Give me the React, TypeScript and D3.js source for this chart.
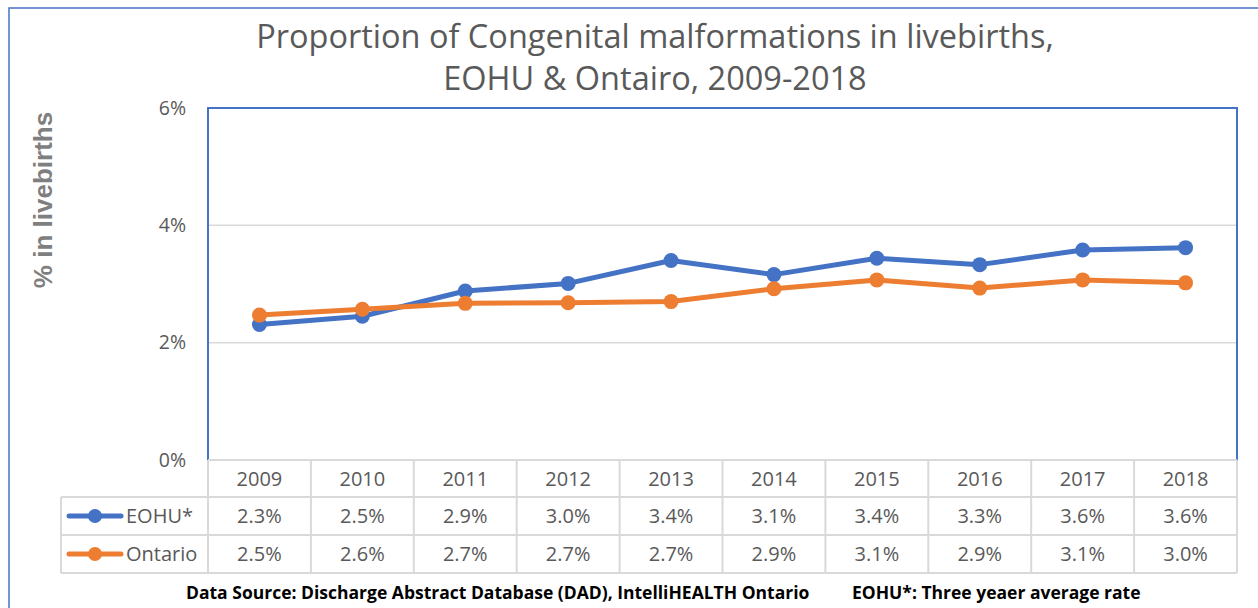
import React from "react";
import * as d3 from "d3";

const years = ["2009", "2010", "2011", "2012", "2013", "2014", "2015", "2016", "2017", "2018"];
const eohuValues = [2.31, 2.45, 2.88, 3.01, 3.4, 3.16, 3.44, 3.33, 3.58, 3.62];
const ontarioValues = [2.47, 2.57, 2.67, 2.68, 2.7, 2.92, 3.07, 2.93, 3.07, 3.02];
const eohuLabels = ["2.3%", "2.5%", "2.9%", "3.0%", "3.4%", "3.1%", "3.4%", "3.3%", "3.6%", "3.6%"];
const ontarioLabels = ["2.5%", "2.6%", "2.7%", "2.7%", "2.7%", "2.9%", "3.1%", "2.9%", "3.1%", "3.0%"];
const yTicks = [0, 2, 4, 6];
const seriesNames = ["EOHU*", "Ontario"];
const titleLines = ["Proportion of Congenital malformations in livebirths,", "EOHU & Ontairo, 2009-2018"];
const yTitle = "% in livebirths";
const footerSource = "Data Source: Discharge Abstract Database (DAD), IntelliHEALTH Ontario";
const footerNote = "EOHU*: Three yeaer average rate";

const W = 1258;
const H = 608;
const FONT = "'Open Sans', 'Noto Sans', sans-serif";
const TXT = "#595959";
const BLUE = "#4472C4";
const ORANGE = "#ED7D31";
const GRID = "#D9D9D9";

export default function App() {
  const left = 208, right = 1237, top = 108, bottom = 460;
  const rowH = [37, 38, 38];
  const legendLeft = 61;

  const x = d3.scaleBand<string>().domain(years).range([left, right]);
  const y = d3.scaleLinear().domain([0, 6]).range([bottom, top]);
  const line = d3
    .line<number>()
    .x((_, i) => (x(years[i]) as number) + x.bandwidth() / 2)
    .y((d) => y(d));

  const series = [
    { name: seriesNames[0], values: eohuValues, labels: eohuLabels, color: BLUE },
    { name: seriesNames[1], values: ontarioValues, labels: ontarioLabels, color: ORANGE },
  ];

  const r0 = bottom;
  const r1 = r0 + rowH[0];
  const r2 = r1 + rowH[1];
  const r3 = r2 + rowH[2];
  const rowTops = [r1, r2];

  return (
    <svg width={W} height={H} style={{ position: "absolute", left: 0, top: 0, background: "#fff" }}>
      <rect x={0} y={0} width={W} height={H} fill="#fff" />
      <rect x={9} y={8} width={W + 10} height={H + 10} fill="none" stroke={BLUE} strokeWidth={1.5} />
      {titleLines.map((t, i) => (
        <text key={i} x={655} y={48 + i * 42} textAnchor="middle" fontFamily={FONT} fontSize={32.5} fill={TXT}>
          {t}
        </text>
      ))}
      <text
        transform={`translate(52, 200) rotate(-90)`}
        textAnchor="middle"
        fontFamily="'Liberation Sans', Arial, sans-serif"
        fontSize={26}
        fontWeight="bold"
        fill="#7F7F7F"
      >
        {yTitle}
      </text>
      {yTicks.map((t) => (
        <g key={t}>
          {t > 0 && t < 6 && <line x1={left} x2={right} y1={y(t)} y2={y(t)} stroke={GRID} strokeWidth={1.5} />}
          <text x={186} y={y(t)} dy="0.35em" textAnchor="end" fontFamily={FONT} fontSize={19.5} fill={TXT}>
            {t}%
          </text>
        </g>
      ))}
      <path d={`M${left},${bottom} V${top} H${right} V${bottom}`} fill="none" stroke={BLUE} strokeWidth={2} />

      {/* data table */}
      <g stroke={GRID} strokeWidth={2} fill="none">
        <line x1={left} x2={right} y1={r0} y2={r0} />
        <line x1={legendLeft} x2={right} y1={r1} y2={r1} />
        <line x1={legendLeft} x2={right} y1={r2} y2={r2} />
        <line x1={legendLeft} x2={right} y1={r3} y2={r3} />
        <line x1={legendLeft} x2={legendLeft} y1={r1} y2={r3} />
        {years.map((yr) => (
          <line key={yr} x1={x(yr) as number} x2={x(yr) as number} y1={r0} y2={r3} />
        ))}
        <line x1={right} x2={right} y1={r0} y2={r3} />
      </g>
      {years.map((yr) => (
        <text
          key={yr}
          x={(x(yr) as number) + x.bandwidth() / 2}
          y={(r0 + r1) / 2}
          dy="0.35em"
          textAnchor="middle"
          fontFamily={FONT}
          fontSize={20}
          fill={TXT}
        >
          {yr}
        </text>
      ))}
      {series.map((s, si) => (
        <g key={s.name}>
          {s.labels.map((lb, i) => (
            <text
              key={i}
              x={(x(years[i]) as number) + x.bandwidth() / 2}
              y={(rowTops[si] + rowTops[si] + rowH[si + 1]) / 2}
              dy="0.35em"
              textAnchor="middle"
              fontFamily={FONT}
              fontSize={20}
              fill={TXT}
            >
              {lb}
            </text>
          ))}
          <line
            x1={69}
            x2={121}
            y1={rowTops[si] + rowH[si + 1] / 2}
            y2={rowTops[si] + rowH[si + 1] / 2}
            stroke={s.color}
            strokeWidth={5}
            strokeLinecap="round"
          />
          <circle cx={95} cy={rowTops[si] + rowH[si + 1] / 2} r={7} fill={s.color} />
          <text
            x={126}
            y={rowTops[si] + rowH[si + 1] / 2}
            dy="0.35em"
            fontFamily={FONT}
            fontSize={20}
            fill={TXT}
          >
            {s.name}
          </text>
        </g>
      ))}

      {/* lines */}
      {series.map((s) => (
        <g key={s.name}>
          <path d={line(s.values) as string} fill="none" stroke={s.color} strokeWidth={5} strokeLinejoin="round" />
          {s.values.map((v, i) => (
            <circle key={i} cx={(x(years[i]) as number) + x.bandwidth() / 2} cy={y(v)} r={7.5} fill={s.color} />
          ))}
        </g>
      ))}

      <text x={186} y={599} fontFamily={FONT} fontSize={17.5} fontWeight="bold" fill="#000">
        {footerSource}
      </text>
      <text x={852} y={599} fontFamily={FONT} fontSize={17.5} fontWeight="bold" fill="#000">
        {footerNote}
      </text>
    </svg>
  );
}
